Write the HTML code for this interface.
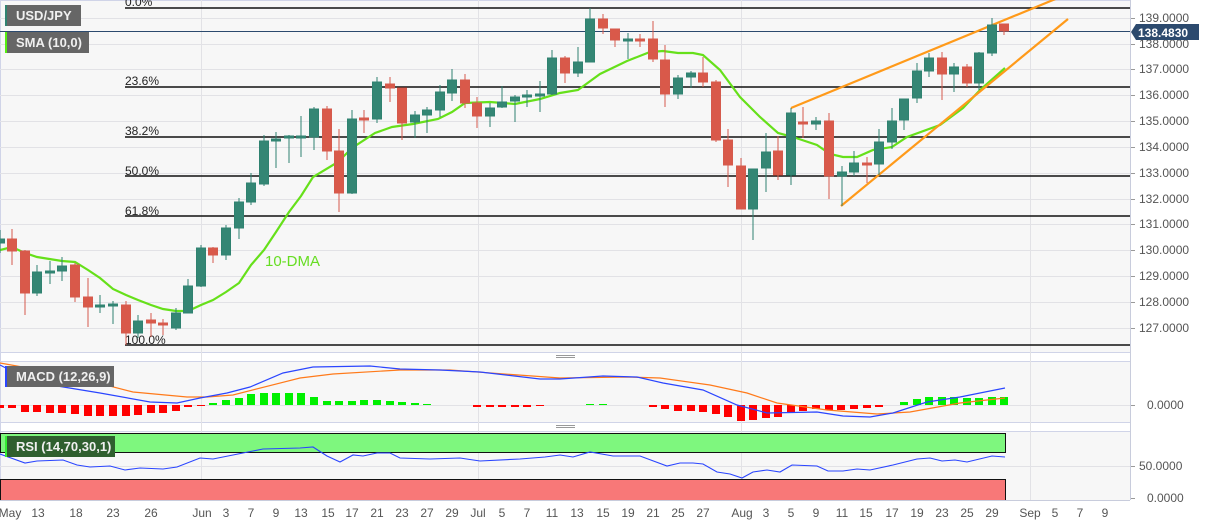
<!DOCTYPE html>
<html><head><meta charset="utf-8"><style>
html,body{margin:0;padding:0;background:#fff;}
svg{display:block;font-family:"Liberation Sans",sans-serif;}
</style></head><body>
<svg width="1207" height="526" viewBox="0 0 1207 526" xmlns="http://www.w3.org/2000/svg">
<!-- panel backgrounds -->
<rect x="0" y="0" width="1130" height="352" fill="#f7f7f7"/>
<rect x="0" y="361" width="1130" height="61" fill="#f7f7f7"/>
<rect x="0" y="431" width="1130" height="69" fill="#f7f7f7"/>
<line x1="0" y1="0.5" x2="1130" y2="0.5" stroke="#d0d4e8"/>
<line x1="0" y1="352.5" x2="1130" y2="352.5" stroke="#d0d4e8"/>
<line x1="0" y1="361.5" x2="1130" y2="361.5" stroke="#d0d4e8"/>
<line x1="0" y1="422.5" x2="1130" y2="422.5" stroke="#d0d4e8"/>
<line x1="0" y1="431.5" x2="1130" y2="431.5" stroke="#d0d4e8"/>
<line x1="0.5" y1="0" x2="0.5" y2="500" stroke="#d0d4e8"/>
<line x1="1130.5" y1="0" x2="1130.5" y2="500" stroke="#c8ccdc"/>
<!-- handles -->
<g stroke="#999" stroke-width="1"><line x1="556" y1="355.5" x2="575" y2="355.5"/><line x1="556" y1="357.5" x2="575" y2="357.5"/><line x1="556" y1="425.5" x2="575" y2="425.5"/><line x1="556" y1="427.5" x2="575" y2="427.5"/></g>
<!-- grid -->
<g stroke="#e2e2e6" stroke-width="1">
<line x1="0" y1="18.5" x2="1130" y2="18.5"/><line x1="0" y1="44.5" x2="1130" y2="44.5"/><line x1="0" y1="69.5" x2="1130" y2="69.5"/><line x1="0" y1="95.5" x2="1130" y2="95.5"/><line x1="0" y1="121.5" x2="1130" y2="121.5"/><line x1="0" y1="147.5" x2="1130" y2="147.5"/><line x1="0" y1="173.5" x2="1130" y2="173.5"/><line x1="0" y1="199.5" x2="1130" y2="199.5"/><line x1="0" y1="224.5" x2="1130" y2="224.5"/><line x1="0" y1="250.5" x2="1130" y2="250.5"/><line x1="0" y1="276.5" x2="1130" y2="276.5"/><line x1="0" y1="302.5" x2="1130" y2="302.5"/><line x1="0" y1="328.5" x2="1130" y2="328.5"/>
<line x1="201.5" y1="0" x2="201.5" y2="500"/><line x1="478.5" y1="0" x2="478.5" y2="500"/><line x1="741.5" y1="0" x2="741.5" y2="500"/><line x1="1030.5" y1="0" x2="1030.5" y2="500"/>
<line x1="0" y1="405.5" x2="1130" y2="405.5"/><line x1="0" y1="466.5" x2="1130" y2="466.5"/>
</g>
<!-- fib lines -->
<g stroke="#111" stroke-width="1.5">
<line x1="125" y1="8" x2="1130" y2="8"/><line x1="125" y1="87" x2="1130" y2="87"/><line x1="125" y1="137" x2="1130" y2="137"/><line x1="125" y1="176" x2="1130" y2="176"/><line x1="125" y1="216" x2="1130" y2="216"/><line x1="125" y1="345" x2="1130" y2="345"/>
</g>
<g font-size="12" fill="#222">
<text x="125" y="6">0.0%</text><text x="125" y="85">23.6%</text><text x="125" y="135">38.2%</text><text x="125" y="175">50.0%</text><text x="125" y="215">61.8%</text><text x="125" y="344">100.0%</text>
</g>
<!-- price line -->
<line x1="0" y1="31.5" x2="1130" y2="31.5" stroke="#2c4a6e" stroke-width="1"/>
<!-- SMA -->
<polyline fill="none" stroke="#66e01a" stroke-width="2.2" points="0,250 12,247 25,253 37,257 62,261 75,262 88,270 100,278 113,289 126,295 138,300 151,305 163,309 176,311 188,311 201,305 213,300 226,292 239,283 251,265 264,250 276,232 289,212 301,196 313,177 338,162 352,148 375,133 392,127 413,124 438,119 452,112 465,103 490,102 515,104 540,99 560,93 578,90 600,74 627,61 650,52 663,51 678,53 693,53 703,55 720,70 740,97 760,117 778,133 793,137 817,145 830,154 843,157 857,157 873,150 892,147 907,137 940,125 963,108 980,90 1005,68"/>
<text x="265" y="266" font-size="15" fill="#66dd22">10-DMA</text>
<!-- wedge -->
<g stroke="#ff9a1a" stroke-width="2.2"><line x1="791" y1="108" x2="1070" y2="-7"/><line x1="841" y1="206" x2="1068" y2="19"/></g>
<!-- candles -->
<g stroke-width="1">
<g stroke="#2f8270" fill="#348674">
<line x1="0" y1="230" x2="0" y2="253"/><rect x="-4.5" y="239" width="9" height="4"/>
<line x1="37" y1="265" x2="37" y2="296"/><rect x="32.5" y="272" width="9" height="21"/>
<line x1="50" y1="261" x2="50" y2="284"/><rect x="45.5" y="271" width="9" height="2"/>
<line x1="62" y1="257" x2="62" y2="281"/><rect x="57.5" y="266" width="9" height="5"/>
<line x1="100" y1="295" x2="100" y2="313"/><rect x="95.5" y="305" width="9" height="2"/>
<line x1="113" y1="301" x2="113" y2="324"/><rect x="108.5" y="304" width="9" height="2"/>
<line x1="138" y1="315" x2="138" y2="338"/><rect x="133.5" y="321" width="9" height="12"/>
<line x1="176" y1="308" x2="176" y2="330"/><rect x="171.5" y="313" width="9" height="15"/>
<line x1="188" y1="279" x2="188" y2="313"/><rect x="183.5" y="286" width="9" height="27"/>
<line x1="201" y1="245" x2="201" y2="287"/><rect x="196.5" y="248" width="9" height="38"/>
<line x1="226" y1="225" x2="226" y2="260"/><rect x="221.5" y="228" width="9" height="27"/>
<line x1="239" y1="198" x2="239" y2="239"/><rect x="234.5" y="202" width="9" height="26"/>
<line x1="251" y1="173" x2="251" y2="205"/><rect x="246.5" y="183" width="9" height="19"/>
<line x1="264" y1="135" x2="264" y2="186"/><rect x="259.5" y="141" width="9" height="43"/>
<line x1="276" y1="132" x2="276" y2="168"/><rect x="271.5" y="139" width="9" height="2"/>
<line x1="289" y1="135" x2="289" y2="163"/><rect x="284.5" y="136" width="9" height="2"/>
<line x1="301" y1="116" x2="301" y2="157"/><rect x="296.5" y="136" width="9" height="2"/>
<line x1="314" y1="107" x2="314" y2="150"/><rect x="309.5" y="109" width="9" height="28"/>
<line x1="352" y1="110" x2="352" y2="194"/><rect x="347.5" y="119" width="9" height="74"/>
<line x1="377" y1="77" x2="377" y2="123"/><rect x="372.5" y="82" width="9" height="37"/>
<line x1="415" y1="111" x2="415" y2="138"/><rect x="410.5" y="115" width="9" height="7"/>
<line x1="427" y1="107" x2="427" y2="133"/><rect x="422.5" y="110" width="9" height="5"/>
<line x1="440" y1="85" x2="440" y2="117"/><rect x="435.5" y="92" width="9" height="18"/>
<line x1="452" y1="69" x2="452" y2="101"/><rect x="447.5" y="80" width="9" height="13"/>
<line x1="490" y1="103" x2="490" y2="127"/><rect x="485.5" y="108" width="9" height="8"/>
<line x1="502" y1="86" x2="502" y2="108"/><rect x="497.5" y="102" width="9" height="5"/>
<line x1="515" y1="95" x2="515" y2="122"/><rect x="510.5" y="97" width="9" height="4"/>
<line x1="527" y1="90" x2="527" y2="107"/><rect x="522.5" y="95" width="9" height="2"/>
<line x1="540" y1="81" x2="540" y2="112"/><rect x="535.5" y="94" width="9" height="2"/>
<line x1="552" y1="50" x2="552" y2="95"/><rect x="547.5" y="58" width="9" height="36"/>
<line x1="578" y1="47" x2="578" y2="77"/><rect x="573.5" y="62" width="9" height="11"/>
<line x1="590" y1="8" x2="590" y2="62"/><rect x="585.5" y="19" width="9" height="43"/>
<line x1="628" y1="33" x2="628" y2="59"/><rect x="623.5" y="39" width="9" height="2"/>
<line x1="678" y1="75" x2="678" y2="99"/><rect x="673.5" y="78" width="9" height="16"/>
<line x1="691" y1="71" x2="691" y2="88"/><rect x="686.5" y="73" width="9" height="4"/>
<line x1="753" y1="169" x2="753" y2="240"/><rect x="748.5" y="169" width="9" height="40"/>
<line x1="766" y1="133" x2="766" y2="192"/><rect x="761.5" y="152" width="9" height="16"/>
<line x1="791" y1="108" x2="791" y2="185"/><rect x="786.5" y="113" width="9" height="62"/>
<line x1="816" y1="117" x2="816" y2="130"/><rect x="811.5" y="121" width="9" height="3"/>
<line x1="842" y1="166" x2="842" y2="206"/><rect x="837.5" y="172" width="9" height="4"/>
<line x1="854" y1="151" x2="854" y2="176"/><rect x="849.5" y="163" width="9" height="9"/>
<line x1="879" y1="129" x2="879" y2="175"/><rect x="874.5" y="142" width="9" height="22"/>
<line x1="892" y1="108" x2="892" y2="149"/><rect x="887.5" y="121" width="9" height="21"/>
<line x1="904" y1="99" x2="904" y2="130"/><rect x="899.5" y="99" width="9" height="21"/>
<line x1="917" y1="63" x2="917" y2="103"/><rect x="912.5" y="71" width="9" height="27"/>
<line x1="929" y1="53" x2="929" y2="77"/><rect x="924.5" y="58" width="9" height="13"/>
<line x1="954" y1="63" x2="954" y2="92"/><rect x="949.5" y="67" width="9" height="7"/>
<line x1="979" y1="52" x2="979" y2="90"/><rect x="974.5" y="53" width="9" height="30"/>
<line x1="992" y1="18" x2="992" y2="56"/><rect x="987.5" y="25" width="9" height="28"/>
</g>
<g stroke="#d55a4c" fill="#d9594a">
<line x1="12" y1="229" x2="12" y2="265"/><rect x="7.5" y="239" width="9" height="12"/>
<line x1="25" y1="250" x2="25" y2="315"/><rect x="20.5" y="251" width="9" height="42"/>
<line x1="75" y1="263" x2="75" y2="302"/><rect x="70.5" y="265" width="9" height="32"/>
<line x1="88" y1="278" x2="88" y2="327"/><rect x="83.5" y="297" width="9" height="10"/>
<line x1="126" y1="301" x2="126" y2="345"/><rect x="121.5" y="305" width="9" height="28"/>
<line x1="151" y1="313" x2="151" y2="337"/><rect x="146.5" y="320" width="9" height="3"/>
<line x1="163" y1="319" x2="163" y2="335"/><rect x="158.5" y="323" width="9" height="2"/>
<line x1="213" y1="247" x2="213" y2="263"/><rect x="208.5" y="248" width="9" height="7"/>
<line x1="327" y1="106" x2="327" y2="160"/><rect x="322.5" y="109" width="9" height="42"/>
<line x1="339" y1="129" x2="339" y2="212"/><rect x="334.5" y="151" width="9" height="42"/>
<line x1="364" y1="110" x2="364" y2="133"/><rect x="359.5" y="118" width="9" height="2"/>
<line x1="390" y1="77" x2="390" y2="102"/><rect x="385.5" y="84" width="9" height="4"/>
<line x1="402" y1="88" x2="402" y2="140"/><rect x="397.5" y="88" width="9" height="35"/>
<line x1="465" y1="74" x2="465" y2="108"/><rect x="460.5" y="80" width="9" height="23"/>
<line x1="477" y1="97" x2="477" y2="128"/><rect x="472.5" y="103" width="9" height="13"/>
<line x1="565" y1="56" x2="565" y2="83"/><rect x="560.5" y="58" width="9" height="15"/>
<line x1="603" y1="14" x2="603" y2="34"/><rect x="598.5" y="19" width="9" height="9"/>
<line x1="615" y1="29" x2="615" y2="47"/><rect x="610.5" y="29" width="9" height="11"/>
<line x1="640" y1="34" x2="640" y2="47"/><rect x="635.5" y="39" width="9" height="2"/>
<line x1="653" y1="21" x2="653" y2="62"/><rect x="648.5" y="39" width="9" height="20"/>
<line x1="665" y1="45" x2="665" y2="107"/><rect x="660.5" y="60" width="9" height="34"/>
<line x1="703" y1="57" x2="703" y2="87"/><rect x="698.5" y="73" width="9" height="9"/>
<line x1="716" y1="80" x2="716" y2="142"/><rect x="711.5" y="82" width="9" height="58"/>
<line x1="728" y1="129" x2="728" y2="187"/><rect x="723.5" y="140" width="9" height="25"/>
<line x1="741" y1="158" x2="741" y2="209"/><rect x="736.5" y="166" width="9" height="43"/>
<line x1="778" y1="136" x2="778" y2="180"/><rect x="773.5" y="151" width="9" height="24"/>
<line x1="803" y1="107" x2="803" y2="138"/><rect x="798.5" y="122" width="9" height="2"/>
<line x1="829" y1="113" x2="829" y2="199"/><rect x="824.5" y="121" width="9" height="55"/>
<line x1="867" y1="157" x2="867" y2="183"/><rect x="862.5" y="163" width="9" height="2"/>
<line x1="942" y1="52" x2="942" y2="100"/><rect x="937.5" y="58" width="9" height="16"/>
<line x1="967" y1="64" x2="967" y2="87"/><rect x="962.5" y="67" width="9" height="16"/>
<line x1="1004" y1="24" x2="1004" y2="35"/><rect x="999.5" y="24" width="9" height="7"/>
</g>
</g>
<!-- MACD histogram -->
<g fill="#ff0000">
<rect x="-4" y="405" width="8" height="3"/><rect x="8" y="405" width="8" height="3"/><rect x="21" y="405" width="8" height="7"/><rect x="33" y="405" width="8" height="7"/><rect x="46" y="405" width="8" height="8"/><rect x="58" y="405" width="8" height="8"/><rect x="71" y="405" width="8" height="9"/><rect x="84" y="405" width="8" height="11"/><rect x="96" y="405" width="8" height="11"/><rect x="109" y="405" width="8" height="11"/><rect x="122" y="405" width="8" height="11"/><rect x="134" y="405" width="8" height="10"/><rect x="147" y="405" width="8" height="8"/><rect x="159" y="405" width="8" height="8"/><rect x="172" y="405" width="8" height="6"/><rect x="184" y="405" width="8" height="2"/><rect x="197" y="405" width="8" height="1"/>
<rect x="473" y="405" width="8" height="2"/><rect x="486" y="405" width="8" height="2"/><rect x="498" y="405" width="8" height="2"/><rect x="511" y="405" width="8" height="2"/><rect x="523" y="405" width="8" height="2"/><rect x="536" y="405" width="8" height="1"/>
<rect x="649" y="405" width="8" height="2"/><rect x="661" y="405" width="8" height="4"/><rect x="674" y="405" width="8" height="6"/><rect x="687" y="405" width="8" height="6"/><rect x="699" y="405" width="8" height="7"/><rect x="712" y="405" width="8" height="9"/><rect x="724" y="405" width="8" height="12"/><rect x="737" y="405" width="8" height="16"/><rect x="749" y="405" width="8" height="15"/><rect x="762" y="405" width="8" height="13"/><rect x="774" y="405" width="8" height="12"/><rect x="787" y="405" width="8" height="7"/><rect x="799" y="405" width="8" height="6"/><rect x="812" y="405" width="8" height="4"/><rect x="825" y="405" width="8" height="5"/><rect x="837" y="405" width="8" height="5"/><rect x="850" y="405" width="8" height="4"/><rect x="863" y="405" width="8" height="3"/><rect x="875" y="405" width="8" height="2"/>
</g>
<g fill="#00f000">
<rect x="209" y="403" width="8" height="2"/><rect x="222" y="400" width="8" height="5"/><rect x="235" y="398" width="8" height="7"/><rect x="247" y="394" width="8" height="11"/><rect x="260" y="393" width="8" height="12"/><rect x="272" y="393" width="8" height="12"/><rect x="285" y="393" width="8" height="12"/><rect x="297" y="393" width="8" height="12"/><rect x="310" y="397" width="8" height="8"/><rect x="323" y="401" width="8" height="4"/><rect x="335" y="401" width="8" height="4"/><rect x="348" y="401" width="8" height="4"/><rect x="360" y="400" width="8" height="5"/><rect x="373" y="400" width="8" height="5"/><rect x="386" y="401" width="8" height="4"/><rect x="398" y="402" width="8" height="3"/><rect x="411" y="403" width="8" height="2"/><rect x="423" y="404" width="8" height="1"/>
<rect x="586" y="404" width="8" height="1"/><rect x="599" y="404" width="8" height="1"/>
<rect x="900" y="402" width="8" height="3"/><rect x="913" y="399" width="8" height="6"/><rect x="925" y="397" width="8" height="8"/><rect x="938" y="397" width="8" height="8"/><rect x="950" y="397" width="8" height="8"/><rect x="963" y="398" width="8" height="7"/><rect x="975" y="398" width="8" height="7"/><rect x="988" y="397" width="8" height="8"/><rect x="1000" y="397" width="8" height="8"/>
</g>
<polyline fill="none" stroke="#ff7a1a" stroke-width="1.2" points="0,363 67,375 133,392 187,397 207,397 233,395 300,378 333,374 400,370 450,370 560,378 627,377 660,378 710,385 747,393 777,403 827,410 877,414 910,412 960,403 1005,398"/>
<polyline fill="none" stroke="#2a45ff" stroke-width="1.2" points="0,365 33,382 100,393 150,402 177,403 200,398 227,393 250,387 283,373 313,367 370,366 400,369 440,370 480,372 540,379 560,379 603,376 637,377 663,383 703,390 737,405 767,413 817,412 843,416 870,417 893,413 927,402 960,397 1005,388"/>
<!-- RSI -->
<rect x="0.5" y="433.5" width="1005" height="19" fill="#7ef77e" stroke="#111"/>
<rect x="0.5" y="479.5" width="1005" height="21" fill="#f87878" stroke="#111"/>
<polyline fill="none" stroke="#2a45ff" stroke-width="1.1" points="0,454 25,463 37,461 63,460 77,465 90,467 110,466 125,470 140,468 163,469 177,467 200,458 213,459 253,451 263,449 300,448 313,447 327,456 340,462 353,455 363,456 377,453 390,453 400,458 430,459 460,458 480,461 520,459 545,457 560,455 573,457 590,452 613,456 640,456 667,466 680,463 693,463 703,464 717,472 730,474 742,478 753,472 767,470 780,472 792,465 817,466 828,471 843,471 857,469 870,470 893,465 917,459 930,458 942,461 955,460 967,462 992,456 1005,457"/>
<!-- legends -->
<rect x="5" y="5" width="76" height="21" fill="#666"/><rect x="5" y="5" width="2" height="21" fill="#2f8270"/>
<text x="16" y="20" font-size="13" font-weight="bold" fill="#f0f0f0">USD/JPY</text>
<rect x="5" y="32" width="84" height="21" fill="#666"/><rect x="5" y="32" width="2" height="21" fill="#55ee11"/>
<text x="16" y="47" font-size="13" font-weight="bold" fill="#f0f0f0">SMA (10,0)</text>
<rect x="5" y="366" width="109" height="21" fill="#666"/><rect x="5" y="366" width="2" height="21" fill="#2a45ff"/>
<text x="16" y="381" font-size="13" font-weight="bold" fill="#f0f0f0">MACD (12,26,9)</text>
<rect x="5" y="436" width="110" height="21" fill="#2f5f2f"/><rect x="5" y="436" width="2" height="21" fill="#33ee33"/>
<text x="16" y="451" font-size="13" font-weight="bold" fill="#f0f0f0">RSI (14,70,30,1)</text>
<!-- right axis -->
<g stroke="#999"><line x1="1131" y1="18.5" x2="1135" y2="18.5"/><line x1="1131" y1="44.5" x2="1135" y2="44.5"/><line x1="1131" y1="69.5" x2="1135" y2="69.5"/><line x1="1131" y1="95.5" x2="1135" y2="95.5"/><line x1="1131" y1="121.5" x2="1135" y2="121.5"/><line x1="1131" y1="147.5" x2="1135" y2="147.5"/><line x1="1131" y1="173.5" x2="1135" y2="173.5"/><line x1="1131" y1="199.5" x2="1135" y2="199.5"/><line x1="1131" y1="224.5" x2="1135" y2="224.5"/><line x1="1131" y1="250.5" x2="1135" y2="250.5"/><line x1="1131" y1="276.5" x2="1135" y2="276.5"/><line x1="1131" y1="302.5" x2="1135" y2="302.5"/><line x1="1131" y1="328.5" x2="1135" y2="328.5"/><line x1="1131" y1="405.5" x2="1135" y2="405.5"/><line x1="1131" y1="466.5" x2="1135" y2="466.5"/><line x1="1131" y1="498.5" x2="1135" y2="498.5"/></g>
<g font-size="12" fill="#555">
<text x="1139" y="22">139.0000</text><text x="1139" y="48">138.0000</text><text x="1139" y="73">137.0000</text><text x="1139" y="99">136.0000</text><text x="1139" y="125">135.0000</text><text x="1139" y="151">134.0000</text><text x="1139" y="177">133.0000</text><text x="1139" y="203">132.0000</text><text x="1139" y="228">131.0000</text><text x="1139" y="254">130.0000</text><text x="1139" y="280">129.0000</text><text x="1139" y="306">128.0000</text><text x="1139" y="332">127.0000</text>
<text x="1147" y="409">0.0000</text><text x="1139" y="470">50.0000</text><text x="1147" y="502">0.0000</text>
</g>
<path d="M1131,32 L1136,24 L1199,24 L1199,40 L1136,40 Z" fill="#2c4a6e"/>
<text x="1138" y="37" font-size="12" font-weight="bold" fill="#fff">138.4830</text>
<!-- x axis -->
<line x1="0" y1="500.5" x2="1130" y2="500.5" stroke="#c8ccdc"/>
<g font-size="12" fill="#555" text-anchor="middle">
<text x="10" y="517">May</text><text x="38" y="517">13</text><text x="76" y="517">18</text><text x="113" y="517">23</text><text x="151" y="517">26</text><text x="202" y="517">Jun</text><text x="226" y="517">3</text><text x="251" y="517">7</text><text x="276" y="517">9</text><text x="301" y="517">13</text><text x="328" y="517">15</text><text x="352" y="517">17</text><text x="377" y="517">21</text><text x="402" y="517">23</text><text x="427" y="517">27</text><text x="452" y="517">29</text><text x="478" y="517">Jul</text><text x="502" y="517">5</text><text x="527" y="517">7</text><text x="552" y="517">11</text><text x="577" y="517">13</text><text x="603" y="517">15</text><text x="628" y="517">19</text><text x="653" y="517">21</text><text x="678" y="517">25</text><text x="703" y="517">27</text><text x="742" y="517">Aug</text><text x="766" y="517">3</text><text x="791" y="517">5</text><text x="816" y="517">9</text><text x="842" y="517">11</text><text x="866" y="517">15</text><text x="892" y="517">17</text><text x="917" y="517">19</text><text x="942" y="517">23</text><text x="967" y="517">25</text><text x="992" y="517">29</text><text x="1030" y="517">Sep</text><text x="1055" y="517">5</text><text x="1080" y="517">7</text><text x="1105" y="517">9</text>
</g>
</svg>
</body></html>
